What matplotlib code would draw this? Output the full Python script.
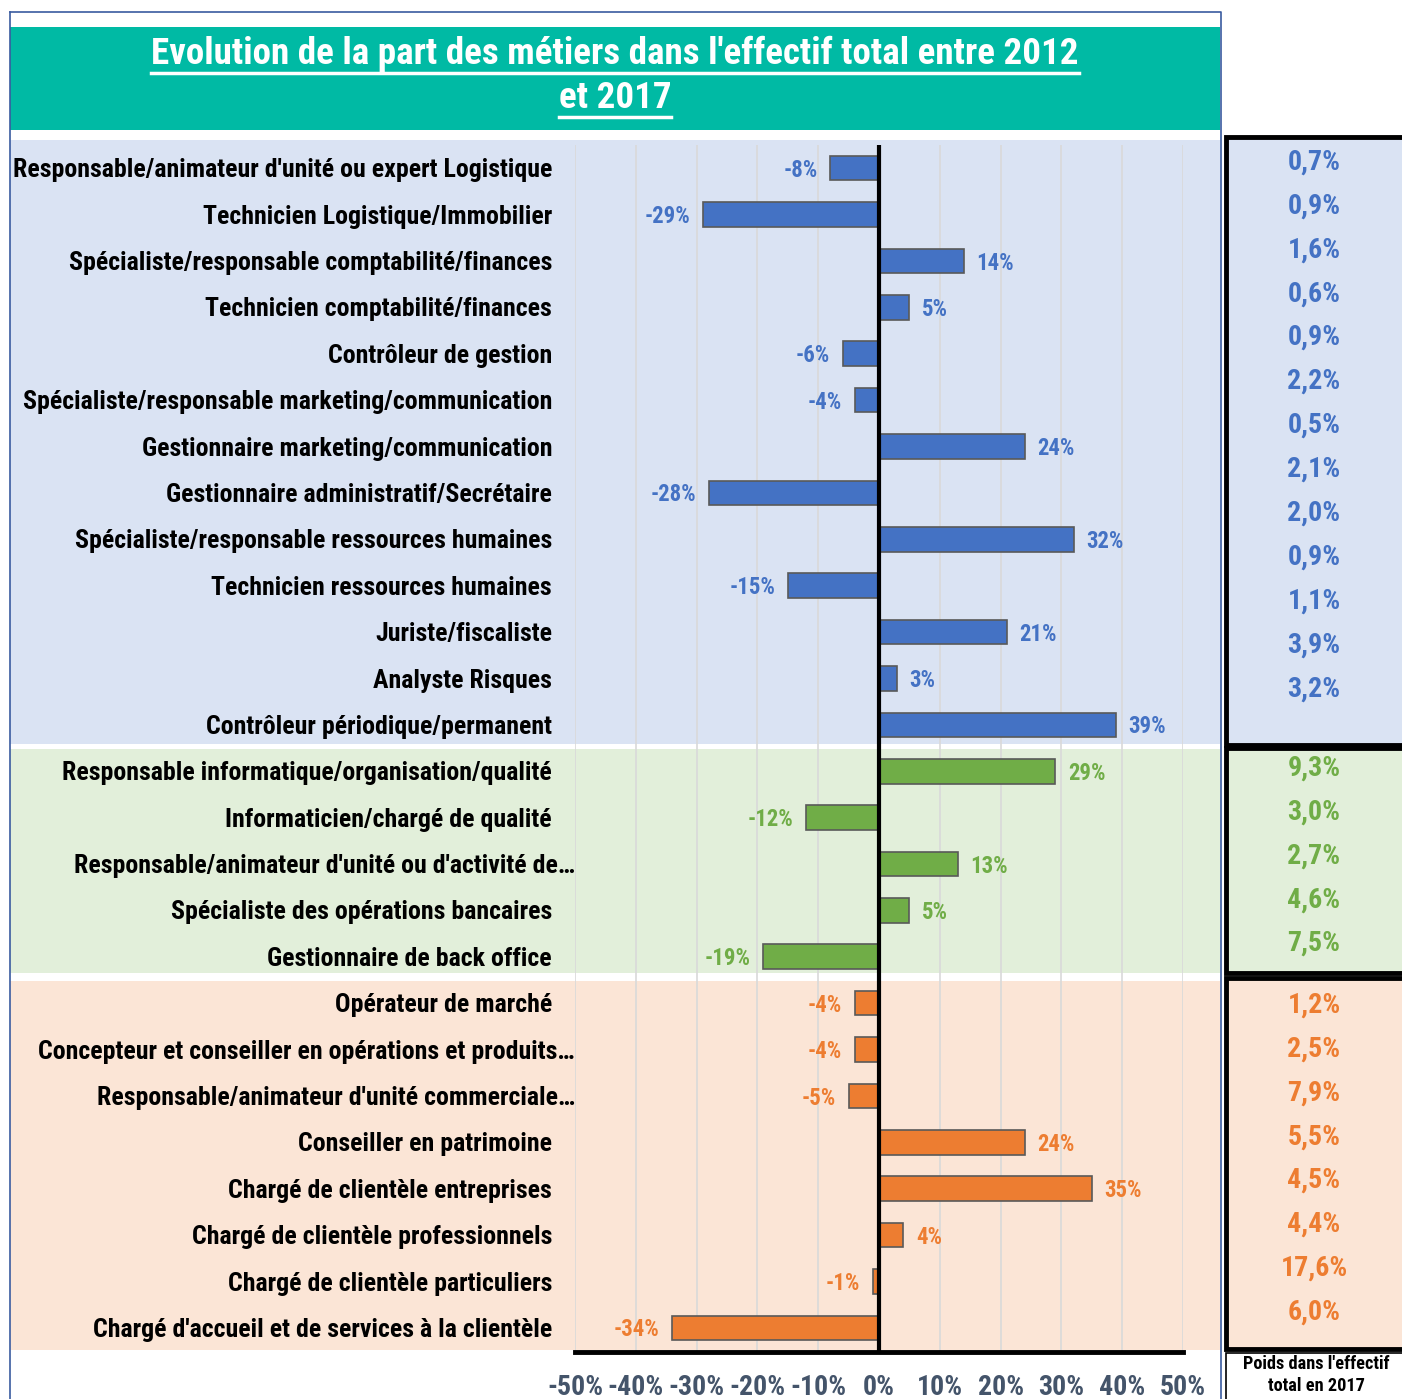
import numpy as np
import matplotlib
matplotlib.use("Agg")
import matplotlib.pyplot as plt
from matplotlib import font_manager
from matplotlib.patches import Rectangle
from matplotlib.transforms import blended_transform_factory, offset_copy

# pick the narrowest font that is installed
font = 'DejaVu Sans'
for name in ['Roboto Condensed', 'Liberation Sans Narrow', 'Open Sans Condensed', 'Roboto', 'Liberation Sans']:
    try:
        font_manager.findfont(font_manager.FontProperties(family=name), fallback_to_default=False)
        font = name
        break
    except Exception:
        pass
plt.rcParams['font.family'] = [font, 'DejaVu Sans']
plt.rcParams['font.weight'] = 'bold'

W, H = 1402, 1399

title = ["Evolution de la part des métiers dans l'effectif total entre 2012", "et 2017"]

blue_jobs = ["Responsable/animateur d'unité ou expert Logistique",
             "Technicien Logistique/Immobilier",
             "Spécialiste/responsable comptabilité/finances",
             "Technicien comptabilité/finances",
             "Contrôleur de gestion",
             "Spécialiste/responsable marketing/communication",
             "Gestionnaire marketing/communication",
             "Gestionnaire administratif/Secrétaire",
             "Spécialiste/responsable ressources humaines",
             "Technicien ressources humaines",
             "Juriste/fiscaliste",
             "Analyste Risques",
             "Contrôleur périodique/permanent"]
blue_evol = [-8, -29, 14, 5, -6, -4, 24, -28, 32, -15, 21, 3, 39]
blue_weight = ["0,7%", "0,9%", "1,6%", "0,6%", "0,9%", "2,2%", "0,5%",
               "2,1%", "2,0%", "0,9%", "1,1%", "3,9%", "3,2%"]

green_jobs = ["Responsable informatique/organisation/qualité",
              "Informaticien/chargé de qualité",
              "Responsable/animateur d'unité ou d'activité de…",
              "Spécialiste des opérations bancaires",
              "Gestionnaire de back office"]
green_evol = [29, -12, 13, 5, -19]
green_weight = ["9,3%", "3,0%", "2,7%", "4,6%", "7,5%"]

orange_jobs = ["Opérateur de marché",
               "Concepteur et conseiller en opérations et produits…",
               "Responsable/animateur d'unité commerciale…",
               "Conseiller en patrimoine",
               "Chargé de clientèle entreprises",
               "Chargé de clientèle professionnels",
               "Chargé de clientèle particuliers",
               "Chargé d'accueil et de services à la clientèle"]
orange_evol = [-4, -4, -5, 24, 35, 4, -1, -34]
orange_weight = ["1,2%", "2,5%", "7,9%", "5,5%", "4,5%", "4,4%", "17,6%", "6,0%"]

x_ticks = [-50, -40, -30, -20, -10, 0, 10, 20, 30, 40, 50]

groups = [
    (blue_jobs, blue_evol, blue_weight, '#4472C4', '#DAE3F3', (140, 744), (137, 745), 162),
    (green_jobs, green_evol, green_weight, '#70AD47', '#E2EFDA', (749, 973), (748, 973), 768),
    (orange_jobs, orange_evol, orange_weight, '#ED7D31', '#FBE5D6', (981, 1350), (978, 1349), 1005),
]

fig = plt.figure(figsize=(W / 100, H / 100), dpi=100)
renderer = fig.canvas.get_renderer()


def fit_size(text, width_px, base=20):
    t = fig.text(0, 0, text, fontsize=base)
    w = t.get_window_extent(renderer).width
    t.remove()
    return base * width_px / w


size_title = fit_size(title[0], 926)
size_job = fit_size(blue_jobs[0], 539)
size_tick = fit_size("-50%", 56)
size_lab = fit_size("-29%", 46)
size_weight = fit_size("0,7%", 53)
size_note = fit_size("Poids dans l'effectif", 146)

bg = fig.add_axes([0, 0, 1, 1])
bg.set_xlim(0, W)
bg.set_ylim(H, 0)
bg.axis('off')

# outer frame and title band
bg.add_patch(Rectangle((10, 27), 1210, 103, facecolor='#00BAA4', edgecolor='none'))
bg.plot([10, 1221, 1221], [12, 12, H], color='#3A5BA0', lw=1.2)
bg.plot([10, 10], [12, H], color='#3A5BA0', lw=1.2)

# group backgrounds and right-hand boxes
for jobs, evol, weight, col, bgc, (y0, y1), (by0, by1), wy in groups:
    bg.add_patch(Rectangle((10, y0), 1210, y1 - y0, facecolor=bgc, edgecolor='none'))
    bg.add_patch(Rectangle((1226, by0), 200, by1 - by0, facecolor=bgc,
                           edgecolor='black', lw=3.5))
    for k, w in enumerate(weight):
        bg.text(1314, wy + k * 43.9, w, color=col, fontsize=size_weight,
                ha='center', va='center')

bg.add_patch(Rectangle((1226, 1353), 200, 60, facecolor='white', edgecolor='black', lw=1.2))
bg.text(1316, 1375, "Poids dans l'effectif\ntotal en 2017", fontsize=size_note,
        ha='center', va='center', linespacing=1.3)

# title with underline
for k, line in enumerate(title):
    t = bg.text(615, 54 + k * 44, line, color='white', fontsize=size_title,
                ha='center', va='center')
    bb = t.get_window_extent(renderer)
    ul = H - (bb.y0 - 1)
    bg.plot([bb.x0, bb.x1], [ul, ul], color='white', lw=2.5)

# main chart
ax = fig.add_axes([575 / W, (H - 1352) / H, 608 / W, (1352 - 145) / H])
ax.patch.set_alpha(0)
jobs_all = blue_jobs + green_jobs + orange_jobs
evol_all = blue_evol + green_evol + orange_evol
colors = []
for jobs, evol, weight, col, *_ in groups:
    colors += [col] * len(jobs)
ypos = np.arange(len(jobs_all))

ax.barh(ypos, evol_all, height=0.53, color=colors, edgecolor='#595959', lw=1.2, zorder=3)
ax.set_xlim(-50, 50)
ax.set_ylim(25.52, -0.5)
ax.set_xticks(x_ticks)
ax.set_xticklabels([f"{v}%" for v in x_ticks], color='#44546A', fontsize=size_tick)
ax.tick_params(axis='x', length=0, pad=16)
ax.set_yticks([])
ax.grid(axis='x', color='#D9D9D9', lw=1.2, zorder=0)
for s in ['top', 'right', 'left']:
    ax.spines[s].set_visible(False)
ax.spines['bottom'].set_linewidth(3.5)
ax.axvline(0, color='black', lw=3, zorder=4)

tr = offset_copy(blended_transform_factory(ax.transAxes, ax.transData), fig=fig,
                 x=0, y=-1.5, units='points')
for i, (job, v, c) in enumerate(zip(jobs_all, evol_all, colors)):
    xl = 0.0 if job.endswith('…') else -23 / 608
    ax.text(xl, i, job, transform=tr, ha='right', va='center', fontsize=size_job, color='black')
    off = 9 if v > 0 else -9
    ax.annotate(f"{v}%", (v, i), xytext=(off, -1.5), textcoords='offset points',
                ha='left' if v > 0 else 'right', va='center', color=c, fontsize=size_lab)

fig.savefig('out.png', dpi=100)
